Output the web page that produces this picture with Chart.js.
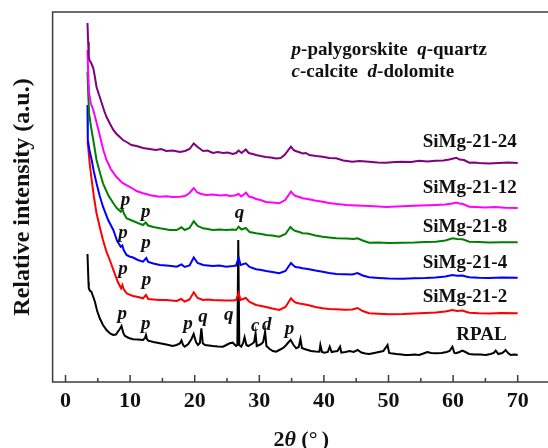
<!DOCTYPE html>
<html>
<head>
<meta charset="utf-8">
<script src="https://cdn.jsdelivr.net/npm/chart.js@4/dist/chart.umd.min.js"></script>
<style>
  html, body { margin: 0; padding: 0; background: #fff; overflow: hidden; }
  #wrap { width: 548px; height: 448px; overflow: hidden; }
</style>
</head>
<body>
<div id="wrap"><canvas id="xrd" width="556" height="448"></canvas></div>
<script>
// XRD patterns, stacked with offsets already included (arbitrary intensity units).
// Each point is [2theta, intensity].
const seriesNames = ["SiMg-21-24", "SiMg-21-12", "SiMg-21-8", "SiMg-21-4", "SiMg-21-2", "RPAL"];
const seriesColors = ["#800080", "#ff00ff", "#008000", "#0000ff", "#ff0000", "#000000"];

const simg24 = [[3.4,359],[3.5,340],[3.6,325],[3.75,321],[3.9,320],[4.1,317],[4.3,314],[4.55,305],[4.8,295],[5.2,287],[5.6,279],[6.0,271],[6.35,265],[6.9,258],[7.4,252],[7.9,248],[8.4,245],[8.9,242],[9.45,240],[10.2,237],[11.0,236],[12.0,234],[13.0,233],[14.0,232],[14.8,233],[15.6,231],[16.6,231.5],[17.7,230],[18.5,231],[19.2,233],[19.85,238.5],[20.45,235],[21.3,231],[22.0,231.5],[22.8,229],[23.6,230],[24.4,229],[25.1,229.5],[25.9,228],[26.4,229],[26.8,231.5],[27.25,229],[27.9,232.5],[28.35,229],[29.0,228],[29.5,227],[30.2,226],[31.0,225],[31.8,224.5],[32.6,223.5],[33.3,224],[33.9,227],[34.9,235.3],[35.3,232],[35.6,231],[36.1,230],[36.7,228.5],[37.2,229],[37.75,227],[38.8,226],[39.8,225.3],[40.8,224],[41.9,223.7],[43.0,221.5],[44.4,220.3],[45.5,221],[47.0,220.3],[48.3,219.5],[49.6,219.3],[51.0,220],[52.1,220.3],[53.5,220],[54.75,221.3],[56.0,220.5],[57.3,221.3],[58.5,221.5],[59.4,222.5],[60.5,224.3],[61.0,222.5],[61.7,222],[62.5,219.3],[63.2,219.5],[64.0,219],[65.5,218.5],[67.1,219],[68.5,219.5],[70.0,219]];

const simg12 = [[3.4,332],[3.5,310],[3.65,289],[3.9,279],[4.3,272],[4.7,262],[5.1,252],[5.55,240],[5.9,231],[6.35,222],[7.0,213],[7.9,205],[8.8,199],[10.0,195],[11.0,191],[12.0,188.7],[13.3,186.5],[14.6,185.3],[15.6,185.8],[16.6,185],[17.7,185.3],[18.5,186],[19.2,189],[19.85,194],[20.4,189.5],[21.0,188],[21.8,187],[22.8,187.5],[24.0,186.5],[24.9,187],[25.4,186],[26.2,186.5],[26.8,188],[27.2,185.5],[27.95,189.3],[28.4,185.5],[29.0,184.5],[29.5,183],[30.2,182],[31.0,180],[32.0,179.5],[33.1,178.7],[34.0,182],[34.9,190.3],[35.3,187.5],[35.6,186],[36.2,185],[36.7,183.7],[37.5,183],[38.6,181.5],[39.8,180.3],[40.8,179],[42.0,178],[43.5,177],[45.0,176.5],[47.0,176],[48.5,175.5],[49.6,175],[51.3,175.5],[53.0,176],[55.0,176.5],[57.3,177],[58.8,177.5],[59.9,178.5],[60.45,179.5],[61.0,178.5],[61.5,178],[62.5,175.3],[63.5,175],[65.0,174.5],[66.5,175],[68.0,174.3],[70.0,174]];

const simg8 = [[3.4,310.3],[3.5,290],[3.65,268.7],[3.95,255],[4.3,242],[4.8,222],[5.3,210],[5.8,198.7],[6.6,187],[7.4,178.7],[8.0,173.5],[8.55,170.3],[8.8,173],[9.0,169],[9.45,163.7],[9.9,162.5],[10.45,161],[11.2,159],[12.0,157],[12.4,159.5],[12.8,156.5],[13.6,155],[14.6,153.7],[15.3,153],[16.1,152],[17.2,152],[17.95,154.7],[18.45,152],[19.2,154],[19.85,160.7],[20.45,156],[21.3,153.7],[22.0,153],[22.8,152],[23.8,152.5],[24.9,152],[25.9,152.5],[26.4,152],[26.8,155.3],[27.25,152.5],[27.9,154],[28.5,150],[29.5,148.7],[30.3,148],[31.05,147],[32.0,146.5],[33.1,145.3],[34.05,148],[34.8,155],[35.2,152.5],[35.6,151],[36.2,150],[36.7,148.7],[37.5,148.5],[38.7,146.5],[39.8,145.3],[40.8,144.5],[41.9,143.7],[43.5,143.5],[44.6,143],[45.2,143.7],[46.0,141.5],[47.0,139.3],[48.5,139.5],[50.0,139],[52.2,139.3],[54.0,139.5],[55.7,140],[57.3,140.3],[58.8,141.5],[59.9,143.7],[60.6,143],[61.45,142.7],[62.0,141.5],[62.5,140.3],[64.0,140],[65.6,139.5],[67.5,139.8],[70.0,139.7]];

const simg4 = [[3.4,277],[3.45,242],[3.7,232],[4.05,222],[4.4,210],[4.8,198.7],[5.3,186],[5.8,175.3],[6.6,162],[7.4,152],[8.0,141],[8.55,135.3],[8.8,136.5],[9.0,132],[9.45,127],[9.9,125.5],[10.45,124.5],[11.2,122],[12.0,120.3],[12.5,124],[12.8,120],[13.6,118.5],[14.6,117],[15.6,116.5],[16.4,116],[17.2,115.3],[17.95,117.5],[18.45,115],[19.2,116.5],[19.85,124.5],[20.45,119],[21.3,117],[22.0,116.5],[22.8,116],[23.8,116.5],[24.9,115.3],[25.9,116],[26.4,116.5],[26.8,124.5],[27.1,117],[27.9,118.7],[28.5,115],[29.5,112.7],[30.3,112],[31.05,111],[32.0,110],[33.1,108.7],[34.05,111],[34.9,119],[35.2,117],[35.6,115],[36.2,114.5],[36.7,113.7],[37.5,113],[38.7,111.5],[39.8,110.3],[40.8,109],[41.9,108],[43.2,107.8],[44.4,107.5],[45.2,109],[46.0,106.5],[47.0,104.7],[48.5,104],[50.0,103.5],[52.2,103.3],[54.0,103.8],[55.7,104],[57.3,104.5],[58.8,105.5],[59.9,107],[60.6,106.3],[61.45,106.5],[62.0,105.5],[62.5,104.7],[64.0,104.2],[65.6,104],[67.5,104.5],[70.0,104.3]];

const simg2 = [[3.4,240.3],[3.5,235.3],[3.75,218],[4.05,202],[4.4,185],[4.8,168.7],[5.3,155],[5.8,142],[6.3,131],[6.85,122],[7.6,108.7],[8.1,100],[8.6,93.7],[8.8,97],[9.0,93],[9.45,88.7],[9.9,87.3],[10.45,86],[11.2,85],[12.0,83.7],[12.45,87],[12.8,83],[13.6,82.5],[14.6,82],[15.6,82],[16.4,81.5],[17.2,81],[17.9,83],[18.45,80.5],[19.2,82.5],[19.85,89.7],[20.45,84],[21.3,82],[22.0,82.5],[22.8,82],[23.8,81.8],[24.9,81.5],[25.9,81.5],[26.4,82],[26.8,89],[27.1,82],[27.9,84],[28.5,80],[29.5,77],[30.3,76],[31.05,75],[32.0,73.5],[33.1,72],[34.05,75],[34.9,83.7],[35.2,81.5],[35.6,79.5],[36.2,78.5],[36.7,78],[37.5,77],[38.7,75],[39.8,73.7],[40.8,73],[41.9,72.7],[43.2,72.3],[44.4,72.5],[45.2,74],[46.0,71],[47.0,68.7],[48.5,68.2],[50.0,67.8],[52.2,68],[54.0,68.5],[55.7,69],[57.3,69.5],[58.8,70.5],[59.9,72],[60.6,71],[61.45,71.5],[62.0,70.2],[62.5,69.3],[64.0,68.8],[65.6,68.5],[67.5,69],[70.0,68.7]];

const rpal = [[3.4,128],[3.55,100],[3.6,93.7],[3.8,91],[4.0,90.3],[4.3,85],[4.55,80.3],[4.9,71],[5.3,63.7],[5.8,57],[6.35,52],[6.9,48.5],[7.37,47],[7.8,47.5],[8.1,50.3],[8.4,53],[8.67,56],[8.95,49],[9.2,46],[9.8,44],[10.45,42.7],[11.2,42.5],[12.0,42],[12.3,44],[12.45,47],[12.6,43],[12.8,41.3],[13.6,40],[14.6,38.7],[15.6,37.5],[16.6,36],[17.2,37],[17.7,38.5],[17.95,41.5],[18.2,37],[18.45,35.3],[19.0,38],[19.5,43],[19.84,48],[20.2,40],[20.5,37],[20.8,39],[21.03,53.7],[21.25,38.7],[21.6,37],[22.2,36.5],[22.8,36],[23.6,35.5],[24.36,35.3],[24.9,37],[25.4,38.7],[25.9,39.3],[26.4,36],[26.6,37],[26.74,142],[26.9,37],[27.2,35.3],[27.5,39],[27.72,44.7],[28.0,37],[28.3,36],[29.0,38.7],[29.2,40],[29.42,48.7],[29.6,36],[30.0,37],[30.3,38],[30.6,40],[30.9,50.3],[31.1,36],[31.6,33],[32.1,31],[32.6,30.3],[33.1,32],[33.7,34],[34.16,37],[34.55,40],[34.85,42],[35.3,37],[35.7,33.7],[36.1,35],[36.37,43],[36.6,34],[36.98,33],[37.5,32],[38.0,31],[38.7,30.5],[39.3,30.3],[39.45,37],[39.7,30],[40.07,29.3],[40.6,30],[40.9,35.3],[41.2,30],[41.6,30.5],[42.1,31],[42.5,35.3],[42.7,29.3],[43.3,30],[44.0,31],[44.6,30],[45.22,32],[45.8,29.5],[46.4,28.5],[47.03,28],[47.8,29],[48.5,30],[49.2,31],[49.85,37],[50.1,29],[50.38,28.7],[51.2,28],[52.0,27.5],[52.6,27],[53.2,27],[54.0,27.5],[54.75,27],[55.4,28.5],[56.0,30],[56.6,29],[57.33,28.7],[58.2,29],[59.0,30],[59.45,31],[59.89,35.3],[60.2,29],[60.42,28.7],[61.0,30],[61.44,31.3],[61.9,30],[62.47,28],[63.3,27.5],[64.2,27.5],[65.05,27],[65.8,28],[66.3,29],[66.6,31.3],[67.0,28],[67.6,29],[68.0,31],[68.14,32],[68.5,29],[68.92,27],[69.5,27.5],[70.0,27]];

const seriesData = [simg24, simg12, simg8, simg4, simg2, rpal];

// Where each series name sits (data coords: 2theta, intensity at baseline).
const seriesLabelX = [55.3, 55.3, 55.3, 55.3, 55.3, 60.5];
const seriesLabelY = [235.3, 188.7, 149.7, 114.3, 80.3, 42];

// Phase markers: [letter, 2theta, intensity at baseline]
const phaseMarks = [
  ["p", 9.3, 177.3], ["p", 12.42, 165], ["q", 26.94, 164],
  ["p", 8.91, 144], ["p", 12.45, 134],
  ["p", 8.91, 108.3], ["p", 12.53, 96.6],
  ["p", 8.79, 63.3], ["p", 12.42, 53.3], ["p", 18.96, 53.3], ["q", 21.27, 60],
  ["q", 25.27, 61.6], ["c", 29.38, 51], ["d", 31.15, 52], ["p", 34.67, 48.3],
];

// Phase key, two lines: italic letter + bold text
const phaseKey = [
  [["p", true], ["-palygorskite  ", false], ["q", true], ["-quartz", false]],
  [["c", true], ["-calcite  ", false], ["d", true], ["-dolomite", false]],
];
const phaseKeyX = 35;
const phaseKeyY = [327, 304.7];

const xTickLabels = [0, 10, 20, 30, 40, 50, 60, 70];

const SERIF = '"Liberation Serif", "Times New Roman", serif';
const INK = "#111";

const decorations = {
  id: "decorations",
  afterDatasetsDraw(chart) {
    const { ctx, chartArea: a, scales: { x, y } } = chart;
    ctx.save();

    // frame + inward ticks
    ctx.strokeStyle = "#3c3c3c";
    ctx.lineWidth = 1.5;
    ctx.strokeRect(a.left, a.top, a.right - a.left, a.bottom - a.top);
    x.ticks.forEach((t) => {
      const px = x.getPixelForValue(t.value);
      const len = t.value % 10 === 0 ? 7 : 4;
      ctx.beginPath();
      ctx.moveTo(px, a.bottom);
      ctx.lineTo(px, a.bottom - len);
      ctx.stroke();
    });

    ctx.fillStyle = INK;
    ctx.textBaseline = "alphabetic";

    // series names
    ctx.font = `bold 19px ${SERIF}`;
    ctx.textAlign = "left";
    seriesNames.forEach((n, i) => {
      ctx.fillText(n, x.getPixelForValue(seriesLabelX[i]), y.getPixelForValue(seriesLabelY[i]));
    });

    // phase markers
    ctx.font = `italic bold 19px ${SERIF}`;
    ctx.textAlign = "center";
    phaseMarks.forEach(([m, tx, ty]) => {
      ctx.fillText(m, x.getPixelForValue(tx), y.getPixelForValue(ty));
    });

    // key
    ctx.textAlign = "left";
    phaseKey.forEach((line, li) => {
      let px = x.getPixelForValue(phaseKeyX);
      const py = y.getPixelForValue(phaseKeyY[li]);
      line.forEach(([txt, it]) => {
        ctx.font = `${it ? "italic " : ""}bold 19px ${SERIF}`;
        ctx.fillText(txt, px, py);
        px += ctx.measureText(txt).width;
      });
    });

    // x axis title: 2θ (° )
    const parts = [["2", false], ["θ", true], [" (°\u2009)", false]];
    let w = 0;
    parts.forEach(([t, it]) => { ctx.font = `${it ? "italic " : ""}bold 22px ${SERIF}`; w += ctx.measureText(t).width; });
    let tx = (a.left + a.right) / 2 - w / 2;
    parts.forEach(([t, it]) => {
      ctx.font = `${it ? "italic " : ""}bold 22px ${SERIF}`;
      ctx.fillText(t, tx, 446);
      tx += ctx.measureText(t).width;
    });

    ctx.restore();
  },
};

new Chart(document.getElementById("xrd"), {
  type: "scatter",
  data: {
    datasets: seriesData.map((pts, i) => ({
      label: seriesNames[i],
      data: pts.map(([tt, v]) => ({ x: tt, y: v })),
      showLine: true,
      borderColor: seriesColors[i],
      backgroundColor: seriesColors[i],
      borderWidth: 2,
      pointRadius: 0,
      tension: 0,
      fill: false,
    })),
  },
  options: {
    responsive: false,
    animation: false,
    devicePixelRatio: 1,
    layout: { padding: { left: 0, right: 5, top: 12, bottom: 0 } },
    plugins: { legend: { display: false }, tooltip: { enabled: false } },
    scales: {
      x: {
        type: "linear",
        min: -2,
        max: 75,
        grid: { display: false, drawTicks: false },
        border: { display: false },
        afterFit: (s) => { s.height = 66; },
        ticks: {
          stepSize: 5,
          includeBounds: false,
          autoSkip: false,
          maxRotation: 0,
          padding: 6,
          color: INK,
          font: { family: SERIF, size: 22, weight: "bold" },
          callback: (v) => (xTickLabels.includes(v) ? String(v) : ""),
        },
      },
      y: {
        min: 0,
        max: 370,
        grid: { display: false, drawTicks: false },
        border: { display: false },
        ticks: { display: false },
        afterFit: (s) => { s.width = 52.6; },
        title: {
          display: true,
          text: "Relative intensity (a.u.)",
          color: INK,
          font: { family: SERIF, size: 24, weight: "bold" },
          padding: { top: 8, bottom: 0 },
        },
      },
    },
  },
  plugins: [decorations],
});
</script>
</body>
</html>
